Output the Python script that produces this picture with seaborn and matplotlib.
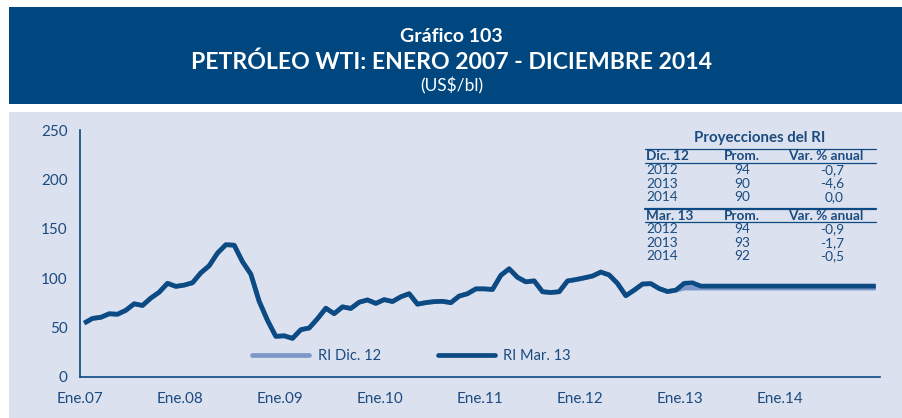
import numpy as np
import pandas as pd
import matplotlib
matplotlib.use("Agg")
import matplotlib.pyplot as plt
from matplotlib.patches import Rectangle
from matplotlib.lines import Line2D
import seaborn as sns

# WTI monthly average price (US$/bl), Jan 2007 - Feb 2013
wti_2007 = [54.5, 59.3, 60.4, 64.0, 63.5, 67.5, 74.1, 72.4, 79.9, 85.8, 94.8, 91.7]
wti_2008 = [93.0, 95.4, 105.4, 112.6, 125.4, 133.9, 133.4, 116.7, 104.1, 76.6, 57.3, 41.1]
wti_2009 = [41.7, 39.1, 47.9, 49.6, 59.0, 69.6, 64.1, 71.0, 69.4, 75.7, 78.0, 74.5]
wti_2010 = [78.3, 76.4, 81.2, 84.3, 73.7, 75.3, 76.3, 76.6, 75.2, 81.9, 84.3, 89.2]
wti_2011 = [89.2, 88.6, 102.9, 109.5, 100.9, 96.3, 97.3, 86.3, 85.5, 86.3, 97.2, 98.6]
wti_2012 = [100.3, 102.2, 106.2, 103.3, 94.7, 82.3, 87.9, 94.1, 94.5, 89.5, 86.5, 87.9]
wti_2013_obs = [94.8, 95.3]

# Projection assumptions
proy_dic12 = 90.0   # flat from Jan 2013
proy_mar13 = 92.0   # flat from Mar 2013

series_names = ["RI Dic. 12", "RI Mar. 13"]
x_labels = ["Ene.07", "Ene.08", "Ene.09", "Ene.10", "Ene.11", "Ene.12", "Ene.13", "Ene.14"]

# Projection table
tabla_titulo = "Proyecciones del RI"
tabla_cols = ["Prom.", "Var. % anual"]
tabla_dic12_anios = ["2012", "2013", "2014"]
tabla_dic12_prom = ["94", "90", "90"]
tabla_dic12_var = ["-0,7", "-4,6", "0,0"]
tabla_mar13_anios = ["2012", "2013", "2014"]
tabla_mar13_prom = ["94", "93", "92"]
tabla_mar13_var = ["-0,9", "-1,7", "-0,5"]

# ---- build the two series ----
hist_2012 = wti_2007 + wti_2008 + wti_2009 + wti_2010 + wti_2011 + wti_2012
n_months = 96
dic12 = hist_2012 + [proy_dic12] * (n_months - len(hist_2012))
hist_mar = hist_2012 + wti_2013_obs
mar13 = hist_mar + [proy_mar13] * (n_months - len(hist_mar))
mes = np.arange(n_months) + 0.5

df = pd.concat([
    pd.DataFrame({"mes": mes, "valor": dic12, "serie": series_names[0]}),
    pd.DataFrame({"mes": mes, "valor": mar13, "serie": series_names[1]}),
], ignore_index=True)

# ---- styling ----
W, H = 903, 418
BANNER = "#00477f"
PANEL = "#dbe1ee"
DARK = "#0b4a82"
LIGHT = "#7d98c6"
TXT = "#1b4b80"

sns.set_theme(style="white")
plt.rcParams["font.family"] = ["Lato", "DejaVu Sans"]

fig = plt.figure(figsize=(W / 100, H / 100), dpi=100)
fig.patch.set_facecolor("white")


def fx(x):
    return x / W


def fy(y):
    return 1 - y / H


# title banner and chart panel (behind the axes)
fig.patches.append(Rectangle((fx(9), fy(104)), fx(902) - fx(9), fy(7) - fy(104),
                             transform=fig.transFigure, facecolor=BANNER, edgecolor="none", zorder=-5))
fig.patches.append(Rectangle((fx(9), fy(418)), fx(902) - fx(9), fy(112) - fy(418),
                             transform=fig.transFigure, facecolor=PANEL, edgecolor="none", zorder=-5))

fig.text(0.5, fy(37), "Gráfico 103", ha="center", va="center", color="white",
         fontsize=14, fontweight="bold")
fig.text(0.5, fy(62), "PETRÓLEO WTI: ENERO 2007 - DICIEMBRE 2014", ha="center", va="center",
         color="white", fontsize=16.6, fontweight="bold")
fig.text(0.5, fy(86), "(US$/bl)", ha="center", va="center", color="white", fontsize=12.5)

ax = fig.add_axes([fx(80), fy(377), fx(880) - fx(80), fy(130) - fy(377)])
ax.set_facecolor("none")
ax.set_zorder(2)

sns.lineplot(data=df, x="mes", y="valor", hue="serie", hue_order=series_names,
             palette=[LIGHT, DARK], linewidth=3.4, legend=False, ax=ax)
for ln in ax.get_lines():
    ln.set_solid_capstyle("butt")
    ln.set_solid_joinstyle("round")

ax.set_xlim(0, 96)
ax.set_ylim(0, 250)
ax.set_xticks(np.arange(0, 97, 12))
ax.set_xticklabels(x_labels + [""])
ax.set_yticks(np.arange(0, 251, 50))
ax.set_xlabel("")
ax.set_ylabel("")
for side in ["top", "right"]:
    ax.spines[side].set_visible(False)
for side in ["left", "bottom"]:
    ax.spines[side].set_color(DARK)
    ax.spines[side].set_linewidth(1.2)
ax.tick_params(axis="both", direction="out", length=5, width=1.2, color=DARK,
               labelcolor=TXT, labelsize=11)
ax.tick_params(axis="x", pad=6)
ax.tick_params(axis="y", pad=4)
ax.grid(False)

handles = [Line2D([], [], color=LIGHT, lw=3.4), Line2D([], [], color=DARK, lw=3.4)]
leg = ax.legend(handles, series_names, loc="center left", bbox_to_anchor=(fx(239), fy(356)),
                bbox_transform=fig.transFigure, ncol=2, frameon=False, fontsize=10.5,
                handlelength=3.9, handletextpad=0.6, columnspacing=3.9)
for t in leg.get_texts():
    t.set_color(TXT)

# ---- projection table ----
x0, x1 = 645, 876
x_prom = 742
x_var_hdr = 826
x_var = 844
FS = 9.8
fig.text(fx(760), fy(138), tabla_titulo, ha="center", va="center", color=TXT,
         fontsize=10.8, fontweight="bold")


def hline(y, lw=0.9):
    fig.add_artist(Line2D([fx(x0), fx(x1)], [fy(y), fy(y)], transform=fig.transFigure,
                          color=DARK, lw=lw))


def bloque(y_hdr, nombre, anios, prom, var):
    fig.text(fx(x0 + 1), fy(y_hdr), nombre, ha="left", va="center", color=TXT,
             fontsize=FS, fontweight="bold")
    fig.text(fx(x_prom), fy(y_hdr), tabla_cols[0], ha="center", va="center", color=TXT,
             fontsize=FS, fontweight="bold")
    fig.text(fx(x_var_hdr), fy(y_hdr), tabla_cols[1], ha="center", va="center", color=TXT,
             fontsize=FS, fontweight="bold")
    for i, (a, p, v) in enumerate(zip(anios, prom, var)):
        yy = y_hdr + 14 + 13.5 * i
        fig.text(fx(x0 + 1), fy(yy), a, ha="left", va="center", color=TXT, fontsize=FS)
        fig.text(fx(x_prom), fy(yy), p, ha="center", va="center", color=TXT, fontsize=FS)
        fig.text(fx(x_var), fy(yy), v, ha="right", va="center", color=TXT, fontsize=FS)


hline(149.3)
bloque(156, "Dic. 12", tabla_dic12_anios, tabla_dic12_prom, tabla_dic12_var)
hline(163.3)
hline(208.5, lw=1.6)
bloque(215.5, "Mar. 13", tabla_mar13_anios, tabla_mar13_prom, tabla_mar13_var)
hline(221.8)

fig.savefig("out.png", dpi=100, facecolor=fig.get_facecolor())
